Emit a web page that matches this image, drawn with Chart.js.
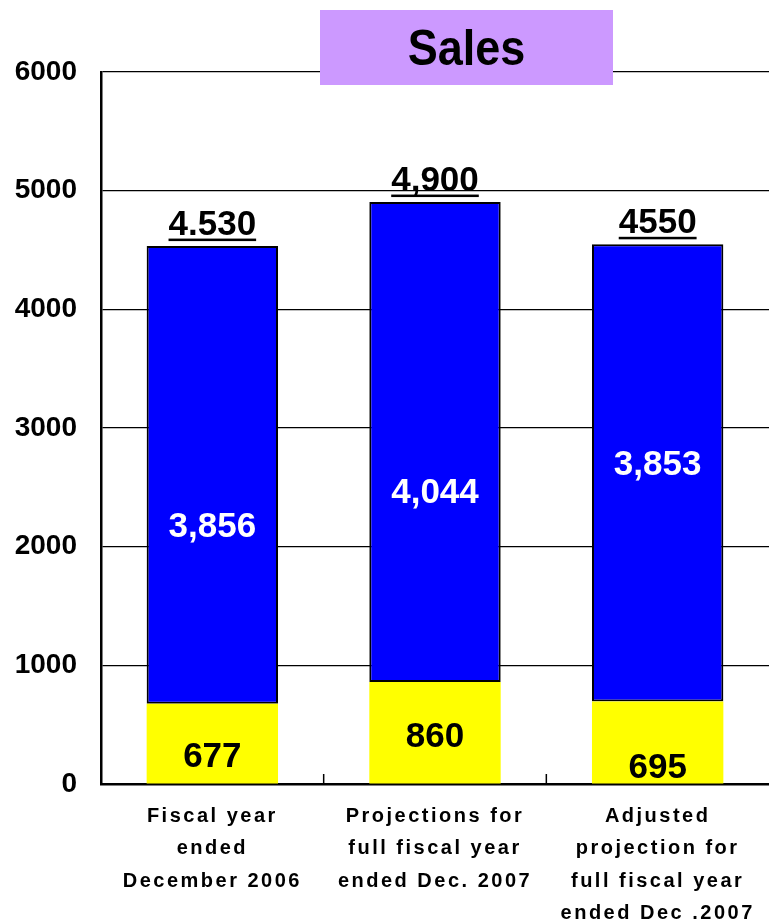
<!DOCTYPE html>
<html>
<head>
<meta charset="utf-8">
<script src="https://cdn.jsdelivr.net/npm/chart.js@4.4.0/dist/chart.umd.min.js"></script>
<style>
  html, body { margin: 0; padding: 0; background: #fff; }
  #wrap { position: relative; width: 769px; height: 922px; }
  #title { position: absolute; left: 320px; top: 10px; width: 293px; height: 75px; background: #cc99ff;
    font: bold 45px "Liberation Sans", Arial, sans-serif; color: #000; text-align: center; line-height: 75px; }
  #title span { display: inline-block; transform: scaleY(1.12); }
</style>
</head>
<body>
<div id="wrap">
  <canvas id="c" width="769" height="922"></canvas>
  <div id="title"><span>Sales</span></div>
</div>
<script>
// Sales: stacked bars, yellow base + blue remainder, total written above each bar.
const categories = [
  ["Fiscal year", "ended", "December 2006"],
  ["Projections for", "full fiscal year", "ended Dec. 2007"],
  ["Adjusted", "projection for", "full fiscal year", "ended Dec .2007"]
];
const baseValues = [677, 860, 695];
const topValues = [3856, 4044, 3853];
const totalLabels = ["4.530", "4,900", "4550"];
const topLabels = ["3,856", "4,044", "3,853"];
const baseLabels = ["677", "860", "695"];

// where the in-bar numbers sit (value units), as placed in the original
const topLabelAt = [2166, 2452, 2688];
const baseLabelAt = [228, 396, 135];

const FONT = '"Liberation Sans", Arial, sans-serif';

const labelPlugin = {
  id: "labels",
  afterDatasetsDraw(chart) {
    const ctx = chart.ctx, y = chart.scales.y, x = chart.scales.x, area = chart.chartArea;
    const top = chart.getDatasetMeta(1).data;
    ctx.save();
    ctx.textAlign = "center";
    ctx.font = "bold 35px " + FONT;
    top.forEach((bar, i) => {
      ctx.textBaseline = "middle";
      ctx.fillStyle = "#fff";
      ctx.fillText(topLabels[i], bar.x, y.getPixelForValue(topLabelAt[i]));
      ctx.fillStyle = "#000";
      ctx.fillText(baseLabels[i], bar.x, y.getPixelForValue(baseLabelAt[i]));
      // total above the bar, underlined
      ctx.textBaseline = "alphabetic";
      ctx.fillText(totalLabels[i], bar.x, bar.y - 11);
      const w = ctx.measureText(totalLabels[i]).width;
      ctx.fillRect(bar.x - w / 2, bar.y - 7.5, w, 2.5);
    });
    // short tick marks between categories on the base line
    ctx.fillStyle = "#000";
    for (let i = 0; i < categories.length - 1; i++) {
      const px = (x.getPixelForTick(i) + x.getPixelForTick(i + 1)) / 2;
      ctx.fillRect(px - 0.75, area.bottom - 10, 1.5, 10);
    }
    ctx.restore();
    // x labels are drawn after this (ticks z:1); the original spaces them out
    ctx.letterSpacing = "2.5px";
  },
  afterDraw(chart) { chart.ctx.letterSpacing = "0px"; }
};

new Chart(document.getElementById("c"), {
  type: "bar",
  data: {
    labels: categories,
    datasets: [
      {label: "base", data: baseValues, backgroundColor: "#ffff00", borderWidth: 0},
      {label: "rest", data: topValues, backgroundColor: "#0000ff", borderColor: "#000", borderWidth: 2, borderSkipped: false}
    ]
  },
  options: {
    responsive: false, animation: false,
    layout: {padding: {top: 72, right: 0, left: 0, bottom: 0}},
    plugins: {legend: {display: false}, tooltip: {enabled: false}, title: {display: false}},
    datasets: {bar: {barPercentage: 0.59, categoryPercentage: 1}},
    scales: {
      x: {
        stacked: true,
        grid: {display: false},
        border: {display: true, color: "#000", width: 2.5},
        ticks: {z: 1, color: "#000", font: {family: FONT, size: 20, weight: "bold", lineHeight: 1.62}, padding: 8, maxRotation: 0, autoSkip: false},
        afterFit: s => { s.height = 138; }
      },
      y: {
        stacked: true, min: 0, max: 6000,
        grid: {color: "#000", lineWidth: 1.2, drawTicks: false},
        border: {display: true, color: "#000", width: 2.5},
        ticks: {stepSize: 1000, color: "#000", padding: 24, callback: v => String(v), font: {family: FONT, size: 28, weight: "bold"}},
        afterFit: s => { s.width = 101; }
      }
    }
  },
  plugins: [labelPlugin]
});
</script>
</body>
</html>
